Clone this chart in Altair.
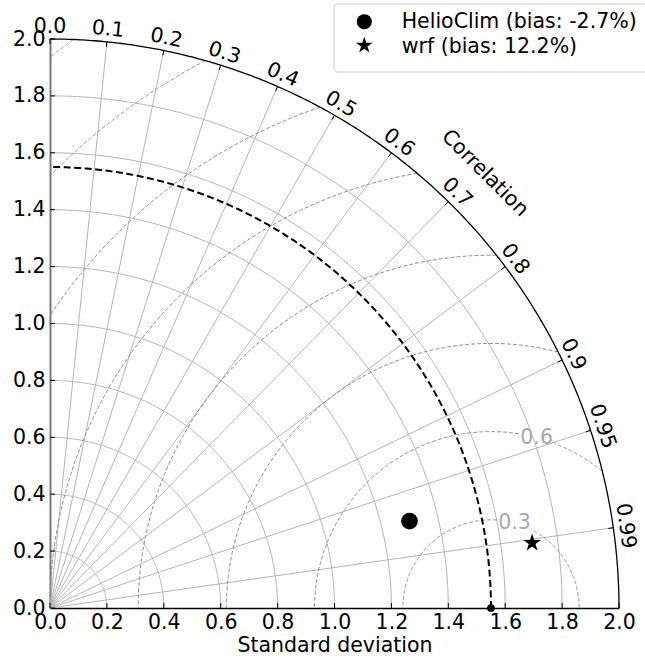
import altair as alt
import numpy as np
import pandas as pd

# ---------------- data ----------------
ref_std = 1.55
max_std = 2.0
models = ["HelioClim (bias: -2.7%)", "wrf (bias: 12.2%)"]
model_std = [1.30, 1.71]
model_corr = [0.972, 0.991]

std_grid = [0.2, 0.4, 0.6, 0.8, 1.0, 1.2, 1.4, 1.6, 1.8]
corr_ticks = [0.0, 0.1, 0.2, 0.3, 0.4, 0.5, 0.6, 0.7, 0.8, 0.9, 0.95, 0.99]
corr_labels = ["0.0", "0.1", "0.2", "0.3", "0.4", "0.5", "0.6", "0.7", "0.8", "0.9", "0.95", "0.99"]
rms_levels = [0.31, 0.62, 0.93, 1.24, 1.55, 1.86, 2.17, 2.48]
rms_labels = ["0.3", "0.6"]
rms_label_angle = [74.5, 75.0]
axis_ticks = [0.0, 0.2, 0.4, 0.6, 0.8, 1.0, 1.2, 1.4, 1.6, 1.8, 2.0]

# ---------------- layout ----------------
W = H = 569
PAD_L, PAD_T = 50, 39
PX = W / max_std          # pixels per unit
TL = 5 / PX               # tick length in data units
FONT = "DejaVu Sans"
FS = 20.5

STAR = ("M0,-1 L0.2245,-0.309 L0.951,-0.309 L0.363,0.118 L0.588,0.809 "
        "L0,0.382 L-0.588,0.809 L-0.363,0.118 L-0.951,-0.309 L-0.2245,-0.309 Z")

xs = alt.Scale(domain=[0, max_std], nice=False, zero=False)
ys = alt.Scale(domain=[0, max_std], nice=False, zero=False)

x_axis = alt.Axis(values=axis_ticks, format=".1f", title="Standard deviation", ticks=False,
                  tickSize=0, grid=False, domainColor="black", domainWidth=1.5,
                  labelFont=FONT, labelFontSize=FS, labelColor="black", labelPadding=4,
                  labelFlush=False, labelOverlap=False, labelBound=False,
                  titleFont=FONT, titleFontSize=FS, titleFontWeight="normal",
                  titleColor="black", titlePadding=3)
y_axis = alt.Axis(values=axis_ticks, format=".1f", title="", ticks=False, tickSize=0,
                  grid=False, domainColor="#777777", domainWidth=2,
                  labelFont=FONT, labelFontSize=FS, labelColor="black", labelPadding=5,
                  labelFlush=False, labelOverlap=False, labelBound=False)


def X(field="x"):
    return alt.X(f"{field}:Q", scale=xs, axis=x_axis)


def Y(field="y"):
    return alt.Y(f"{field}:Q", scale=ys, axis=y_axis)


# ---------------- geometry ----------------
rows = []
for r in std_grid:
    for i, t in enumerate(np.linspace(0, np.pi / 2, 181)):
        rows.append({"x": r * np.cos(t), "y": r * np.sin(t), "g": f"s{r}", "i": i})
grid_df = pd.DataFrame(rows)

rows = []
for c in corr_ticks[1:]:
    t = np.arccos(c)
    rows.append({"x": 0.0, "y": 0.0, "g": f"c{c}", "i": 0})
    rows.append({"x": max_std * np.cos(t), "y": max_std * np.sin(t), "g": f"c{c}", "i": 1})
radial_df = pd.DataFrame(rows)

rows = []
for k, lev in enumerate(rms_levels):
    if ref_std + lev <= max_std:
        p0 = 0.0
    else:
        xo = (max_std ** 2 - lev ** 2 + ref_std ** 2) / (2 * ref_std)
        yo = np.sqrt(max(max_std ** 2 - xo ** 2, 0))
        p0 = np.arctan2(yo, xo - ref_std)
    p1 = np.pi if lev <= ref_std else np.arccos(-ref_std / lev)
    if p1 <= p0:
        continue
    segs = [(p0, p1)]
    if k < len(rms_labels):
        a = np.radians(rms_label_angle[k])
        half = (18 / PX) / lev
        segs = [(p0, a - half), (a + half, p1)]
    for s, (a0, a1) in enumerate(segs):
        if a1 <= a0:
            continue
        for i, p in enumerate(np.linspace(a0, a1, 200)):
            rows.append({"x": ref_std + lev * np.cos(p), "y": lev * np.sin(p),
                         "g": f"r{k}_{s}", "i": i})
contour_df = pd.DataFrame(rows)

ref_df = pd.DataFrame([{"x": ref_std * np.cos(t), "y": ref_std * np.sin(t), "i": i}
                       for i, t in enumerate(np.linspace(0, np.pi / 2, 300))])
outer_df = pd.DataFrame([{"x": max_std * np.cos(t), "y": max_std * np.sin(t), "i": i}
                         for i, t in enumerate(np.linspace(0, np.pi / 2, 300))])

tick_rows = []
for v in axis_ticks:
    tick_rows.append({"x": v, "y": 0.0, "x2": v, "y2": TL})
    tick_rows.append({"x": 0.0, "y": v, "x2": TL, "y2": v})
for c in corr_ticks:
    t = np.arccos(c)
    tick_rows.append({"x": max_std * np.cos(t), "y": max_std * np.sin(t),
                      "x2": (max_std - TL) * np.cos(t), "y2": (max_std - TL) * np.sin(t)})
tick_df = pd.DataFrame(tick_rows)

lab_r = max_std + 12.5 / PX
corr_lab_df = pd.DataFrame([{"x": lab_r * c, "y": lab_r * np.sqrt(1 - c * c),
                             "ang": 90 - np.degrees(np.arccos(c)), "t": l}
                            for c, l in zip(corr_ticks, corr_labels)])

title_r = max_std + 46 / PX
corr_title_df = pd.DataFrame([{"x": title_r * np.cos(np.pi / 4), "y": title_r * np.sin(np.pi / 4),
                               "t": "Correlation"}])

rms_lab_df = pd.DataFrame([{"x": ref_std + lev * np.cos(np.radians(a)),
                            "y": lev * np.sin(np.radians(a)), "t": t}
                           for lev, a, t in zip(rms_levels, rms_label_angle, rms_labels)])

pts_df = pd.DataFrame({"model": models, "std": model_std, "corr": model_corr})
pts_df["x"] = pts_df["std"] * pts_df["corr"]
pts_df["y"] = pts_df["std"] * np.sqrt(1 - pts_df["corr"] ** 2)

shape_scale = alt.Scale(domain=models, range=["circle", STAR])
size_scale = alt.Scale(domain=models, range=[283, 346])

# ---------------- layers ----------------
grid = alt.Chart(grid_df).mark_line(color="#b4b4b4", strokeWidth=1).encode(
    x=X(), y=Y(), detail="g:N", order="i:Q")

radial = alt.Chart(radial_df).mark_line(color="#b4b4b4", strokeWidth=1).encode(
    x=X(), y=Y(), detail="g:N", order="i:Q")

contours = alt.Chart(contour_df).mark_line(color="#8c8c8c", strokeWidth=1, strokeDash=[4, 2]).encode(
    x=X(), y=Y(), detail="g:N", order="i:Q")

ref_arc = alt.Chart(ref_df).mark_line(color="black", strokeWidth=2, strokeDash=[7, 3.5]).encode(
    x=X(), y=Y(), order="i:Q")

outer = alt.Chart(outer_df).mark_line(color="black", strokeWidth=1.3).encode(
    x=X(), y=Y(), order="i:Q")

ticks = alt.Chart(tick_df).mark_rule(color="black", strokeWidth=1).encode(
    x=X(), y=Y(), x2="x2:Q", y2="y2:Q")

corr_text = alt.Chart(corr_lab_df).mark_text(font=FONT, fontSize=FS, color="black",
                                             align="center", baseline="middle").encode(
    x=X(), y=Y(), text="t:N", angle=alt.Angle("ang:Q", scale=None))

corr_title = alt.Chart(corr_title_df).mark_text(font=FONT, fontSize=FS, color="black",
                                                align="center", baseline="middle", angle=45).encode(
    x=X(), y=Y(), text="t:N")

rms_text = alt.Chart(rms_lab_df).mark_text(font=FONT, fontSize=FS, color="#a8a8a8",
                                           align="center", baseline="middle").encode(
    x=X(), y=Y(), text="t:N")

ref_pt = alt.Chart(pd.DataFrame({"x": [ref_std], "y": [0.0]})).mark_point(
    filled=True, color="black", opacity=1, size=60, shape="circle").encode(x=X(), y=Y())

points = alt.Chart(pts_df).mark_point(filled=True, color="black", opacity=1).encode(
    x=X(), y=Y(),
    shape=alt.Shape("model:N", scale=shape_scale, legend=None),
    size=alt.Size("model:N", scale=size_scale, legend=None))

# ---------------- legend (pixel placement) ----------------
leg_box = alt.Chart(pd.DataFrame({"k": [0]})).mark_rect(
    fill="white", stroke="#cccccc", strokeWidth=1, cornerRadius=4).encode(
    x=alt.value(334 - PAD_L), x2=alt.value(660 - PAD_L),
    y=alt.value(4 - PAD_T), y2=alt.value(72 - PAD_T))

leg_layers = [leg_box]
leg_sym_y = [21.7, 45.5]
leg_txt_y = [28.3, 52.7]
leg_shapes = ["circle", STAR]
leg_sizes = [227, 307]
for i, m in enumerate(models):
    d = pd.DataFrame({"model": [m]})
    leg_layers.append(alt.Chart(d).mark_point(
        filled=True, color="black", opacity=1, shape=leg_shapes[i], size=leg_sizes[i]).encode(
        x=alt.value(364.3 - PAD_L), y=alt.value(leg_sym_y[i] - PAD_T)))
    leg_layers.append(alt.Chart(d).mark_text(
        font=FONT, fontSize=FS, color="black", align="left", baseline="alphabetic").encode(
        x=alt.value(401.7 - PAD_L), y=alt.value(leg_txt_y[i] - PAD_T), text="model:N"))

chart = alt.layer(
    grid, radial, contours, ref_arc, outer, ticks, corr_text, corr_title, rms_text,
    ref_pt, points, *leg_layers
).properties(
    width=W, height=H,
    autosize=alt.AutoSizeParams(type="none"),
    padding={"left": PAD_L, "top": PAD_T, "right": 645 - PAD_L - W, "bottom": 661 - PAD_T - H},
    background="white",
).configure_view(strokeWidth=0)

chart.save("out.html", embed_options={"renderer": "svg", "actions": False})
